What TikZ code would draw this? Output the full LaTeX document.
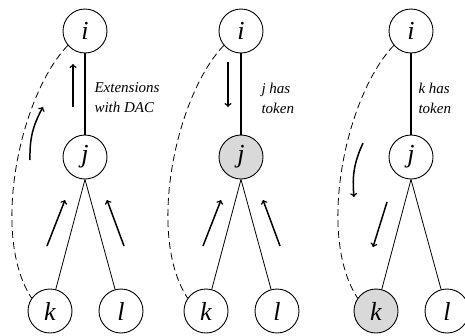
\documentclass[tikz,border=0pt]{standalone}
\usepackage{fontspec}
\setmainfont{Liberation Serif}
\usepackage{xcolor}

\begin{document}
\begin{tikzpicture}[x=1pt,y=1pt,
        vertex/.style={draw,circle,line width=0.9pt,minimum size=44pt,inner sep=0pt,
            font=\fontsize{26}{26}\selectfont\itshape},
        tokenfill/.style={fill=black!15},
        tree/.style={line width=0.8pt},
        backedge/.style={line width=0.8pt,dash pattern=on 7pt off 4pt},
        move/.style={->,line width=1.5pt},
        note/.style={align=left,anchor=west,font=\fontsize{15}{20}\selectfont\itshape}]
            \useasboundingbox (0,0) rectangle (465,-335);
            % first: extensions travel up to i
            \begin{scope}
                \node[vertex] (i1) at (85,-31) {i};
                \node[vertex] (j1) at (85,-157) {j};
                \node[vertex] (k1) at (50,-311) {k};
                \node[vertex] (l1) at (121,-311) {l};
                \draw[tree,line width=1.2pt] (i1) -- (j1);
                \draw[tree] (j1.south) -- (k1);
                \draw[tree] (j1.south) -- (l1);
                \draw[backedge] (i1.220) .. controls (20,-95) and (-10,-235) .. (k1.145);
                \draw[move] (73,-107) -- (73,-64);
                \draw[move] (30,-160) to[bend left=15] (43,-107);
                \draw[move] (47,-246) -- (65,-200);
                \draw[move] (124,-246) -- (107,-200);
                \node[note] (n1) at (91,-98) {Extensions\\with DAC};
            \end{scope}
            % second: token goes down to j
            \begin{scope}[xshift=156pt]
                \node[vertex] (i2) at (85,-31) {i};
                \node[vertex,tokenfill] (j2) at (85,-157) {j};
                \node[vertex] (k2) at (50,-311) {k};
                \node[vertex] (l2) at (121,-311) {l};
                \draw[tree,line width=1.2pt] (i2) -- (j2);
                \draw[tree] (j2.south) -- (k2);
                \draw[tree] (j2.south) -- (l2);
                \draw[backedge] (i2.220) .. controls (20,-95) and (-10,-235) .. (k2.145);
                \draw[move] (72,-62) -- (72,-107);
                \draw[move] (47,-246) -- (65,-200);
                \draw[move] (124,-246) -- (107,-200);
                \node[note] (n2) at (102,-98) {j has\\token};
            \end{scope}
            % third: token goes down to k
            \begin{scope}[xshift=326pt]
                \node[vertex] (i3) at (85,-31) {i};
                \node[vertex] (j3) at (85,-157) {j};
                \node[vertex,tokenfill] (k3) at (50,-311) {k};
                \node[vertex] (l3) at (121,-311) {l};
                \draw[tree,line width=1.2pt] (i3) -- (j3);
                \draw[tree] (j3.south) -- (k3);
                \draw[tree] (j3.south) -- (l3);
                \draw[backedge] (i3.220) .. controls (20,-95) and (-10,-235) .. (k3.145);
                \draw[move] (37,-143) to[bend right=15] (28,-197);
                \draw[move] (61,-202) -- (47,-247);
                \node[note] (n3) at (89,-98) {k has\\token};
            \end{scope}
        \end{tikzpicture}
\end{document}
